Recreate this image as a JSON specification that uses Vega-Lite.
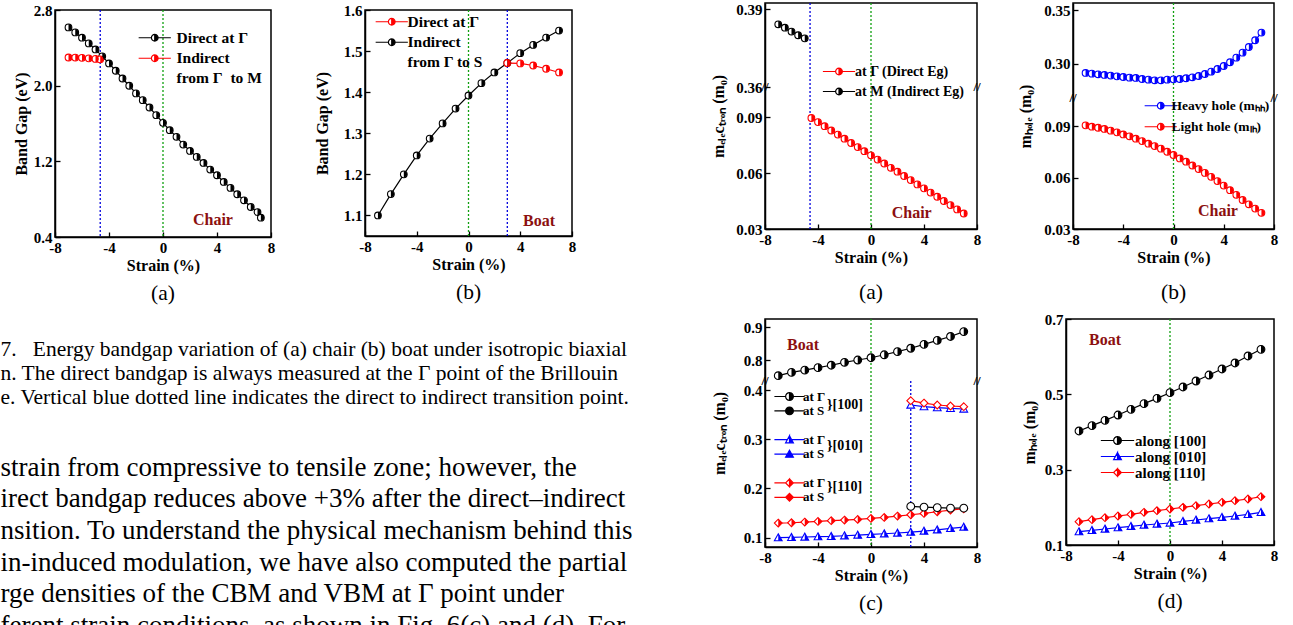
{
"$schema": "https://vega.github.io/schema/vega-lite/v6.json",
"background": "white",
"padding": {"left": 0, "top": 1, "right": 0, "bottom": 0},
"spacing": 76,
"resolve": {"scale": {"color": "independent", "shape": "independent"}},
"config": {
 "view": {"stroke": "#000000", "strokeWidth": 1.5},
 "axis": {"labelFont": "Liberation Serif", "labelFontSize": 15, "labelFontWeight": "bold", "labelColor": "#000000", "titleFont": "Liberation Serif", "titleFontSize": 16, "titleFontWeight": "bold", "titleColor": "#000000", "domainColor": "#000000", "domainWidth": 1.5, "tickColor": "#000000", "tickWidth": 1.3, "tickSize": -5, "labelPadding": 8, "grid": false, "labelFlush": false, "labelOverlap": false},
 "axisX": {"titlePadding": 2},
 "legend": {"labelFont": "Liberation Serif", "labelFontSize": 15, "labelFontWeight": "bold", "labelColor": "#000000", "padding": 0, "labelLimit": 400},
 "text": {"font": "Liberation Serif"}
},
"datasets": {
 "p1": [
  {"series":"Direct at Γ","strain":-7,"value":2.616},{"series":"Direct at Γ","strain":-6.5,"value":2.563},{"series":"Direct at Γ","strain":-6,"value":2.507},{"series":"Direct at Γ","strain":-5.5,"value":2.447},{"series":"Direct at Γ","strain":-5,"value":2.383},{"series":"Direct at Γ","strain":-4.5,"value":2.31},{"series":"Direct at Γ","strain":-4,"value":2.235},{"series":"Direct at Γ","strain":-3.5,"value":2.158},{"series":"Direct at Γ","strain":-3,"value":2.076},{"series":"Direct at Γ","strain":-2.5,"value":1.999},{"series":"Direct at Γ","strain":-2,"value":1.918},{"series":"Direct at Γ","strain":-1.5,"value":1.847},{"series":"Direct at Γ","strain":-1,"value":1.769},{"series":"Direct at Γ","strain":-0.5,"value":1.688},{"series":"Direct at Γ","strain":0,"value":1.607},{"series":"Direct at Γ","strain":0.5,"value":1.529},{"series":"Direct at Γ","strain":1,"value":1.459},{"series":"Direct at Γ","strain":1.5,"value":1.377},{"series":"Direct at Γ","strain":2,"value":1.31},{"series":"Direct at Γ","strain":2.5,"value":1.247},{"series":"Direct at Γ","strain":3,"value":1.183},{"series":"Direct at Γ","strain":3.5,"value":1.113},{"series":"Direct at Γ","strain":4,"value":1.053},{"series":"Direct at Γ","strain":4.5,"value":0.982},{"series":"Direct at Γ","strain":5,"value":0.919},{"series":"Direct at Γ","strain":5.5,"value":0.852},{"series":"Direct at Γ","strain":6,"value":0.788},{"series":"Direct at Γ","strain":6.5,"value":0.717},{"series":"Direct at Γ","strain":7,"value":0.664},{"series":"Direct at Γ","strain":7.25,"value":0.604},
  {"series":"Indirect","strain":-7,"value":2.298},{"series":"Indirect","strain":-6.5,"value":2.297},{"series":"Indirect","strain":-6,"value":2.294},{"series":"Indirect","strain":-5.5,"value":2.289},{"series":"Indirect","strain":-5,"value":2.283},{"series":"Indirect","strain":-4.65,"value":2.278}
 ],
 "p2": [
  {"series":"Indirect","strain":-7,"value":1.100},{"series":"Indirect","strain":-6,"value":1.152},{"series":"Indirect","strain":-5,"value":1.200},{"series":"Indirect","strain":-4,"value":1.246},{"series":"Indirect","strain":-3,"value":1.287},{"series":"Indirect","strain":-2,"value":1.324},{"series":"Indirect","strain":-1,"value":1.360},{"series":"Indirect","strain":0,"value":1.392},{"series":"Indirect","strain":1,"value":1.422},{"series":"Indirect","strain":2,"value":1.448},{"series":"Indirect","strain":3,"value":1.471},{"series":"Indirect","strain":4,"value":1.495},{"series":"Indirect","strain":5,"value":1.515},{"series":"Indirect","strain":6,"value":1.533},{"series":"Indirect","strain":7,"value":1.550},
  {"series":"Direct at Γ","strain":3,"value":1.471},{"series":"Direct at Γ","strain":4,"value":1.470},{"series":"Direct at Γ","strain":5,"value":1.465},{"series":"Direct at Γ","strain":6,"value":1.457},{"series":"Direct at Γ","strain":7,"value":1.448}
 ],
 "pa": [
  {"series":"at M (Indirect Eg)","strain":-7,"value":0.3842},{"series":"at M (Indirect Eg)","strain":-6.5,"value":0.3829},{"series":"at M (Indirect Eg)","strain":-6,"value":0.3814},{"series":"at M (Indirect Eg)","strain":-5.5,"value":0.3800},{"series":"at M (Indirect Eg)","strain":-5,"value":0.3788},
  {"series":"at Γ (Direct Eg)","strain":-4.5,"value":0.0895},{"series":"at Γ (Direct Eg)","strain":-4,"value":0.0873},{"series":"at Γ (Direct Eg)","strain":-3.5,"value":0.0851},{"series":"at Γ (Direct Eg)","strain":-3,"value":0.0828},{"series":"at Γ (Direct Eg)","strain":-2.5,"value":0.0806},{"series":"at Γ (Direct Eg)","strain":-2,"value":0.0784},{"series":"at Γ (Direct Eg)","strain":-1.5,"value":0.0761},{"series":"at Γ (Direct Eg)","strain":-1,"value":0.0739},{"series":"at Γ (Direct Eg)","strain":-0.5,"value":0.0717},{"series":"at Γ (Direct Eg)","strain":0,"value":0.0695},{"series":"at Γ (Direct Eg)","strain":0.5,"value":0.0672},{"series":"at Γ (Direct Eg)","strain":1,"value":0.0651},{"series":"at Γ (Direct Eg)","strain":1.5,"value":0.0628},{"series":"at Γ (Direct Eg)","strain":2,"value":0.0607},{"series":"at Γ (Direct Eg)","strain":2.5,"value":0.0584},{"series":"at Γ (Direct Eg)","strain":3,"value":0.0562},{"series":"at Γ (Direct Eg)","strain":3.5,"value":0.0539},{"series":"at Γ (Direct Eg)","strain":4,"value":0.0518},{"series":"at Γ (Direct Eg)","strain":4.5,"value":0.0495},{"series":"at Γ (Direct Eg)","strain":5,"value":0.0473},{"series":"at Γ (Direct Eg)","strain":5.5,"value":0.0450},{"series":"at Γ (Direct Eg)","strain":6,"value":0.0428},{"series":"at Γ (Direct Eg)","strain":6.5,"value":0.0405},{"series":"at Γ (Direct Eg)","strain":7,"value":0.0383}
 ],
 "pb": [
  {"series":"Heavy hole (mₕₕ)","strain":-7,"value":0.2913},{"series":"Heavy hole (mₕₕ)","strain":-6.5,"value":0.2906},{"series":"Heavy hole (mₕₕ)","strain":-6,"value":0.2900},{"series":"Heavy hole (mₕₕ)","strain":-5.5,"value":0.2894},{"series":"Heavy hole (mₕₕ)","strain":-5,"value":0.2888},{"series":"Heavy hole (mₕₕ)","strain":-4.5,"value":0.2881},{"series":"Heavy hole (mₕₕ)","strain":-4,"value":0.2875},{"series":"Heavy hole (mₕₕ)","strain":-3.5,"value":0.2869},{"series":"Heavy hole (mₕₕ)","strain":-3,"value":0.2866},{"series":"Heavy hole (mₕₕ)","strain":-2.5,"value":0.2856},{"series":"Heavy hole (mₕₕ)","strain":-2,"value":0.2850},{"series":"Heavy hole (mₕₕ)","strain":-1.5,"value":0.2844},{"series":"Heavy hole (mₕₕ)","strain":-1,"value":0.2844},{"series":"Heavy hole (mₕₕ)","strain":-0.5,"value":0.2850},{"series":"Heavy hole (mₕₕ)","strain":0,"value":0.2853},{"series":"Heavy hole (mₕₕ)","strain":0.5,"value":0.2856},{"series":"Heavy hole (mₕₕ)","strain":1,"value":0.2863},{"series":"Heavy hole (mₕₕ)","strain":1.5,"value":0.2872},{"series":"Heavy hole (mₕₕ)","strain":2,"value":0.2884},{"series":"Heavy hole (mₕₕ)","strain":2.5,"value":0.2903},{"series":"Heavy hole (mₕₕ)","strain":3,"value":0.2925},{"series":"Heavy hole (mₕₕ)","strain":3.5,"value":0.2950},{"series":"Heavy hole (mₕₕ)","strain":4,"value":0.2978},{"series":"Heavy hole (mₕₕ)","strain":4.5,"value":0.3013},{"series":"Heavy hole (mₕₕ)","strain":5,"value":0.3056},{"series":"Heavy hole (mₕₕ)","strain":5.5,"value":0.3103},{"series":"Heavy hole (mₕₕ)","strain":6,"value":0.3156},{"series":"Heavy hole (mₕₕ)","strain":6.5,"value":0.3219},{"series":"Heavy hole (mₕₕ)","strain":7,"value":0.3291},
  {"series":"Light hole (mₗₕ)","strain":-7,"value":0.0904},{"series":"Light hole (mₗₕ)","strain":-6.5,"value":0.0896},{"series":"Light hole (mₗₕ)","strain":-6,"value":0.0890},{"series":"Light hole (mₗₕ)","strain":-5.5,"value":0.0883},{"series":"Light hole (mₗₕ)","strain":-5,"value":0.0873},{"series":"Light hole (mₗₕ)","strain":-4.5,"value":0.0863},{"series":"Light hole (mₗₕ)","strain":-4,"value":0.0851},{"series":"Light hole (mₗₕ)","strain":-3.5,"value":0.0840},{"series":"Light hole (mₗₕ)","strain":-3,"value":0.0826},{"series":"Light hole (mₗₕ)","strain":-2.5,"value":0.0812},{"series":"Light hole (mₗₕ)","strain":-2,"value":0.0797},{"series":"Light hole (mₗₕ)","strain":-1.5,"value":0.0783},{"series":"Light hole (mₗₕ)","strain":-1,"value":0.0768},{"series":"Light hole (mₗₕ)","strain":-0.5,"value":0.0750},{"series":"Light hole (mₗₕ)","strain":0,"value":0.0731},{"series":"Light hole (mₗₕ)","strain":0.5,"value":0.0711},{"series":"Light hole (mₗₕ)","strain":1,"value":0.0692},{"series":"Light hole (mₗₕ)","strain":1.5,"value":0.0670},{"series":"Light hole (mₗₕ)","strain":2,"value":0.0649},{"series":"Light hole (mₗₕ)","strain":2.5,"value":0.0627},{"series":"Light hole (mₗₕ)","strain":3,"value":0.0604},{"series":"Light hole (mₗₕ)","strain":3.5,"value":0.0579},{"series":"Light hole (mₗₕ)","strain":4,"value":0.0553},{"series":"Light hole (mₗₕ)","strain":4.5,"value":0.0526},{"series":"Light hole (mₗₕ)","strain":5,"value":0.0499},{"series":"Light hole (mₗₕ)","strain":5.5,"value":0.0469},{"series":"Light hole (mₗₕ)","strain":6,"value":0.0444},{"series":"Light hole (mₗₕ)","strain":6.5,"value":0.0419},{"series":"Light hole (mₗₕ)","strain":7,"value":0.0394}
 ],
 "pc": [
  {"series":"[100] at Γ","strain":-7,"value":0.752},{"series":"[100] at Γ","strain":-6,"value":0.762},{"series":"[100] at Γ","strain":-5,"value":0.769},{"series":"[100] at Γ","strain":-4,"value":0.7765},{"series":"[100] at Γ","strain":-3,"value":0.784},{"series":"[100] at Γ","strain":-2,"value":0.793},{"series":"[100] at Γ","strain":-1,"value":0.800},{"series":"[100] at Γ","strain":0,"value":0.807},{"series":"[100] at Γ","strain":1,"value":0.816},{"series":"[100] at Γ","strain":2,"value":0.8255},{"series":"[100] at Γ","strain":3,"value":0.836},{"series":"[100] at Γ","strain":4,"value":0.848},{"series":"[100] at Γ","strain":5,"value":0.860},{"series":"[100] at Γ","strain":6,"value":0.872},{"series":"[100] at Γ","strain":7,"value":0.887},
  {"series":"[100] at S","strain":3,"value":0.1635},{"series":"[100] at S","strain":4,"value":0.162},{"series":"[100] at S","strain":5,"value":0.161},{"series":"[100] at S","strain":6,"value":0.160},{"series":"[100] at S","strain":7,"value":0.160},
  {"series":"[010] at Γ","strain":-7,"value":0.100},{"series":"[010] at Γ","strain":-6,"value":0.1007},{"series":"[010] at Γ","strain":-5,"value":0.1014},{"series":"[010] at Γ","strain":-4,"value":0.102},{"series":"[010] at Γ","strain":-3,"value":0.1027},{"series":"[010] at Γ","strain":-2,"value":0.104},{"series":"[010] at Γ","strain":-1,"value":0.1054},{"series":"[010] at Γ","strain":0,"value":0.1068},{"series":"[010] at Γ","strain":1,"value":0.108},{"series":"[010] at Γ","strain":2,"value":0.1095},{"series":"[010] at Γ","strain":3,"value":0.1115},{"series":"[010] at Γ","strain":4,"value":0.1135},{"series":"[010] at Γ","strain":5,"value":0.116},{"series":"[010] at Γ","strain":6,"value":0.119},{"series":"[010] at Γ","strain":7,"value":0.1216},
  {"series":"[010] at S","strain":3,"value":0.3696},{"series":"[010] at S","strain":4,"value":0.3662},{"series":"[010] at S","strain":5,"value":0.3642},{"series":"[010] at S","strain":6,"value":0.3628},{"series":"[010] at S","strain":7,"value":0.3615},
  {"series":"[110] at Γ","strain":-7,"value":0.1297},{"series":"[110] at Γ","strain":-6,"value":0.1304},{"series":"[110] at Γ","strain":-5,"value":0.1318},{"series":"[110] at Γ","strain":-4,"value":0.1331},{"series":"[110] at Γ","strain":-3,"value":0.1345},{"series":"[110] at Γ","strain":-2,"value":0.1358},{"series":"[110] at Γ","strain":-1,"value":0.1372},{"series":"[110] at Γ","strain":0,"value":0.1392},{"series":"[110] at Γ","strain":1,"value":0.1412},{"series":"[110] at Γ","strain":2,"value":0.1439},{"series":"[110] at Γ","strain":3,"value":0.1466},{"series":"[110] at Γ","strain":4,"value":0.1493},{"series":"[110] at Γ","strain":5,"value":0.1527},{"series":"[110] at Γ","strain":6,"value":0.1561},{"series":"[110] at Γ","strain":7,"value":0.1588},
  {"series":"[110] at S","strain":3,"value":0.3784},{"series":"[110] at S","strain":4,"value":0.3736},{"series":"[110] at S","strain":5,"value":0.3696},{"series":"[110] at S","strain":6,"value":0.3676},{"series":"[110] at S","strain":7,"value":0.3662}
 ],
 "pcgrp": [{"grp":"[100]"},{"grp":"[010]"},{"grp":"[110]"}],
 "pd": [
  {"series":"along [100]","strain":-7,"value":0.4027},{"series":"along [100]","strain":-6,"value":0.4168},{"series":"along [100]","strain":-5,"value":0.431},{"series":"along [100]","strain":-4,"value":0.4451},{"series":"along [100]","strain":-3,"value":0.4602},{"series":"along [100]","strain":-2,"value":0.4752},{"series":"along [100]","strain":-1,"value":0.4894},{"series":"along [100]","strain":0,"value":0.5044},{"series":"along [100]","strain":1,"value":0.5195},{"series":"along [100]","strain":2,"value":0.5354},{"series":"along [100]","strain":3,"value":0.5513},{"series":"along [100]","strain":4,"value":0.5673},{"series":"along [100]","strain":5,"value":0.5832},{"series":"along [100]","strain":6,"value":0.6018},{"series":"along [100]","strain":7,"value":0.6195},
  {"series":"along [010]","strain":-7,"value":0.1354},{"series":"along [010]","strain":-6,"value":0.1389},{"series":"along [010]","strain":-5,"value":0.1425},{"series":"along [010]","strain":-4,"value":0.146},{"series":"along [010]","strain":-3,"value":0.1496},{"series":"along [010]","strain":-2,"value":0.1531},{"series":"along [010]","strain":-1,"value":0.1558},{"series":"along [010]","strain":0,"value":0.1584},{"series":"along [010]","strain":1,"value":0.1628},{"series":"along [010]","strain":2,"value":0.1664},{"series":"along [010]","strain":3,"value":0.1699},{"series":"along [010]","strain":4,"value":0.1735},{"series":"along [010]","strain":5,"value":0.177},{"series":"along [010]","strain":6,"value":0.1814},{"series":"along [010]","strain":7,"value":0.1867},
  {"series":"along [110]","strain":-7,"value":0.1619},{"series":"along [110]","strain":-6,"value":0.1673},{"series":"along [110]","strain":-5,"value":0.1726},{"series":"along [110]","strain":-4,"value":0.177},{"series":"along [110]","strain":-3,"value":0.1814},{"series":"along [110]","strain":-2,"value":0.1867},{"series":"along [110]","strain":-1,"value":0.1912},{"series":"along [110]","strain":0,"value":0.1956},{"series":"along [110]","strain":1,"value":0.2},{"series":"along [110]","strain":2,"value":0.2044},{"series":"along [110]","strain":3,"value":0.2088},{"series":"along [110]","strain":4,"value":0.2133},{"series":"along [110]","strain":5,"value":0.2177},{"series":"along [110]","strain":6,"value":0.2221},{"series":"along [110]","strain":7,"value":0.2283}
 ]
},
"hconcat": [
 {
  "spacing": -2,
  "resolve": {"scale": {"color": "independent", "shape": "independent"}},
  "title": {
   "text": ["7.\u00a0\u00a0\u00a0Energy bandgap variation of (a) chair (b) boat under isotropic biaxial", "n. The direct bandgap is always measured at the Γ point of the Brillouin", "e. Vertical blue dotted line indicates the direct to indirect transition point."],
   "subtitle": ["strain from compressive to tensile zone; however, the", "irect bandgap reduces above +3% after the direct–indirect", "nsition. To understand the physical mechanism behind this", "in-induced modulation, we have also computed the partial", "rge densities of the CBM and VBM at Γ point under", "ferent strain conditions, as shown in Fig. 6(c) and (d). For"],
   "orient": "bottom", "anchor": "start", "frame": "bounds", "dx": -12, "offset": 34,
   "font": "Liberation Serif", "fontSize": 21.5, "fontWeight": "normal", "lineHeight": 24, "color": "#000000",
   "subtitleFont": "Liberation Serif", "subtitleFontSize": 27, "subtitleFontWeight": "normal", "subtitleLineHeight": 31.6, "subtitleColor": "#000000", "subtitlePadding": 46
  },
  "vconcat": [
   {"width": 1, "height": 1, "view": {"stroke": null}, "data": {"values": []}, "mark": {"type": "point", "opacity": 0}},
   {
  "spacing": 37,
  "resolve": {"scale": {"color": "independent", "shape": "independent"}},
  "hconcat": [
   {
    "width": 216, "height": 227,
    "title": {"text": "(a)", "orient": "bottom", "offset": 10, "font": "Liberation Serif", "fontSize": 21.5, "fontWeight": "normal", "color": "#000000"},
    "layer": [
     {"data": {"values": [{}]}, "mark": {"type": "rule", "color": "#10a010", "strokeDash": [2, 2], "strokeWidth": 1.3}, "encoding": {"x": {"datum": 0}}},
     {"data": {"values": [{}]}, "mark": {"type": "rule", "color": "#0000dd", "strokeDash": [2, 2], "strokeWidth": 1.3}, "encoding": {"x": {"datum": -4.65}}},
     {"data": {"name": "p1"}, "mark": {"type": "line", "strokeWidth": 1.2},
      "encoding": {
       "x": {"field": "strain", "type": "quantitative", "scale": {"domain": [-8, 8], "nice": false, "zero": false}, "axis": {"title": "Strain (%)", "values": [-8, -6, -4, -2, 0, 2, 4, 6, 8], "labelOverlap": false, "labelExpr": "datum.value < 0 ? '-' + abs(datum.value) : '' + datum.value"}},
       "y": {"field": "value", "type": "quantitative", "scale": {"domain": [0.4, 2.8], "nice": false, "zero": false}, "axis": {"title": "Band Gap (eV)", "values": [0.4, 0.8, 1.2, 1.6, 2.0, 2.4, 2.8], "labelOverlap": false, "format": ".1f", "titlePadding": 4}},
       "color": {"field": "series", "type": "nominal", "scale": {"domain": ["Direct at Γ", "Indirect"], "range": ["#000000", "#ff0000"]},
        "legend": {"orient": "none", "legendX": 92, "legendY": 20, "title": null, "symbolSize": 45, "labelOffset": 14, "rowPadding": 3.5, "labelBaseline": "alphabetic", "labelFontSize": 15.5,
         "labelExpr": "datum.label === 'Indirect' ? ['Indirect', '\u00a0\u00a0from Γ\u00a0\u00a0to M'] : datum.label",
         "encode": {
          "symbols": {"update": {"shape": {"value": "M-4.8,0H-1M1,0H4.8M0,-1A1,1,0,1,1,0,1A1,1,0,1,1,0,-1ZM0,-1A1,1,0,0,0,0,1Z"}, "fill": {"signal": "datum.value === 'Indirect' ? '#ff0000' : '#000000'"}, "stroke": {"signal": "datum.value === 'Indirect' ? '#ff0000' : '#000000'"}, "strokeWidth": {"value": 1.2}, "strokeDash": {"value": []}, "opacity": {"value": 1}}},
          "labels": {"update": {"dy": {"value": 5}, "lineHeight": {"value": 20}}}}}}}},
     {"data": {"name": "p1"}, "mark": {"type": "point", "shape": "circle", "filled": false, "fill": "white", "size": 45, "strokeWidth": 1.1, "opacity": 1},
      "encoding": {"x": {"field": "strain", "type": "quantitative"}, "y": {"field": "value", "type": "quantitative"}, "color": {"field": "series", "type": "nominal"}}},
     {"data": {"name": "p1"}, "mark": {"type": "point", "shape": "M0,-1A1,1,0,1,1,0,1A1,1,0,1,1,0,-1ZM0,-1A1,1,0,0,0,0,1Z", "filled": true, "size": 45, "opacity": 1},
      "encoding": {"x": {"field": "strain", "type": "quantitative"}, "y": {"field": "value", "type": "quantitative"}, "color": {"field": "series", "type": "nominal"}}},
     {"data": {"values": [{}]}, "mark": {"type": "text", "text": "Chair", "font": "Liberation Serif", "fontWeight": "bold", "fontSize": 16, "color": "#8c1010"}, "encoding": {"x": {"datum": 3.7}, "y": {"datum": 0.58}}}
    ]
   },
   {
    "width": 207, "height": 226,
    "title": {"text": "(b)", "orient": "bottom", "offset": 10, "font": "Liberation Serif", "fontSize": 21.5, "fontWeight": "normal", "color": "#000000"},
    "layer": [
     {"data": {"values": [{}]}, "mark": {"type": "rule", "color": "#10a010", "strokeDash": [2, 2], "strokeWidth": 1.3}, "encoding": {"x": {"datum": 0}}},
     {"data": {"values": [{}]}, "mark": {"type": "rule", "color": "#0000dd", "strokeDash": [2, 2], "strokeWidth": 1.3}, "encoding": {"x": {"datum": 3}}},
     {"data": {"name": "p2"}, "mark": {"type": "line", "strokeWidth": 1.2},
      "encoding": {
       "x": {"field": "strain", "type": "quantitative", "scale": {"domain": [-8, 8], "nice": false, "zero": false}, "axis": {"title": "Strain (%)", "values": [-8, -6, -4, -2, 0, 2, 4, 6, 8], "labelOverlap": false, "labelExpr": "datum.value < 0 ? '-' + abs(datum.value) : '' + datum.value"}},
       "y": {"field": "value", "type": "quantitative", "scale": {"domain": [1.05, 1.6], "nice": false, "zero": false}, "axis": {"title": "Band Gap (eV)", "values": [1.1, 1.2, 1.3, 1.4, 1.5, 1.6], "labelOverlap": false, "format": ".1f", "titlePadding": 13}},
       "color": {"field": "series", "type": "nominal", "scale": {"domain": ["Direct at Γ", "Indirect"], "range": ["#ff0000", "#000000"]},
        "legend": {"orient": "none", "legendX": 19, "legendY": 4, "title": null, "symbolSize": 45, "labelOffset": 8, "rowPadding": 3.5, "labelBaseline": "alphabetic", "labelFontSize": 15.5,
         "labelExpr": "datum.label === 'Indirect' ? ['Indirect', '\u00a0\u00a0from Γ to S'] : datum.label",
         "encode": {
          "symbols": {"update": {"shape": {"value": "M-4.8,0H-1M1,0H4.8M0,-1A1,1,0,1,1,0,1A1,1,0,1,1,0,-1ZM0,-1A1,1,0,0,0,0,1Z"}, "fill": {"signal": "datum.value === 'Indirect' ? '#000000' : '#ff0000'"}, "stroke": {"signal": "datum.value === 'Indirect' ? '#000000' : '#ff0000'"}, "strokeWidth": {"value": 1.2}, "strokeDash": {"value": []}, "opacity": {"value": 1}}},
          "labels": {"update": {"dy": {"value": 5}, "lineHeight": {"value": 20}}}}}}}},
     {"data": {"name": "p2"}, "mark": {"type": "point", "shape": "circle", "filled": false, "fill": "white", "size": 45, "strokeWidth": 1.1, "opacity": 1},
      "encoding": {"x": {"field": "strain", "type": "quantitative"}, "y": {"field": "value", "type": "quantitative"}, "color": {"field": "series", "type": "nominal"}}},
     {"data": {"name": "p2"}, "mark": {"type": "point", "shape": "M0,-1A1,1,0,1,1,0,1A1,1,0,1,1,0,-1ZM0,-1A1,1,0,0,0,0,1Z", "filled": true, "size": 45, "opacity": 1},
      "encoding": {"x": {"field": "strain", "type": "quantitative"}, "y": {"field": "value", "type": "quantitative"}, "color": {"field": "series", "type": "nominal"}}},
     {"data": {"values": [{}]}, "mark": {"type": "text", "text": "Boat", "font": "Liberation Serif", "fontWeight": "bold", "fontSize": 16, "color": "#8c1010"}, "encoding": {"x": {"datum": 5.45}, "y": {"datum": 1.086}}}
    ]
   }
  ]
   }
  ]
 },
 {
  "spacing": 6,
  "resolve": {"scale": {"color": "independent", "shape": "independent"}},
  "vconcat": [
   {
    "spacing": 96,
    "bounds": "flush",
    "resolve": {"scale": {"color": "independent", "shape": "independent"}},
    "hconcat": [
     {
      "width": 212, "height": 226,
      "title": {"text": "(a)", "orient": "bottom", "offset": 17, "font": "Liberation Serif", "fontSize": 21.5, "fontWeight": "normal", "color": "#000000"},
      "layer": [
       {"data": {"values": [{}]}, "mark": {"type": "rule", "color": "#10a010", "strokeDash": [2, 2], "strokeWidth": 1.3}, "encoding": {"x": {"datum": 0}}},
       {"data": {"values": [{}]}, "mark": {"type": "rule", "color": "#0000dd", "strokeDash": [2, 2], "strokeWidth": 1.3}, "encoding": {"x": {"datum": -4.6}}},
       {"data": {"name": "pa"}, "mark": {"type": "line", "strokeWidth": 1.2},
        "encoding": {
         "x": {"field": "strain", "type": "quantitative", "scale": {"domain": [-8, 8], "nice": false, "zero": false}, "axis": {"title": "Strain (%)", "values": [-8, -6, -4, -2, 0, 2, 4, 6, 8], "labelOverlap": false, "labelExpr": "datum.value < 0 ? '-' + abs(datum.value) : '' + datum.value"}},
         "y": {"field": "value", "type": "quantitative", "scale": {"domain": [0.03, 0.106, 0.36, 0.3924], "range": [226, 84.2, 84.2, 0], "nice": false, "zero": false}, "axis": {"title": "mₑₗₑcₜᵣₒₙ (m₀)", "values": [0.03, 0.06, 0.09, 0.36, 0.39], "labelOverlap": false, "format": ".2f", "titlePadding": 9}},
         "color": {"field": "series", "type": "nominal", "scale": {"domain": ["at Γ (Direct Eg)", "at M (Indirect Eg)"], "range": ["#ff0000", "#000000"]},
          "legend": {"orient": "none", "legendX": 67, "legendY": 61.5, "title": null, "symbolSize": 45, "labelOffset": 9, "rowPadding": 6, "labelFontSize": 14,
           "encode": {
            "symbols": {"update": {"shape": {"value": "M-4.8,0H-1M1,0H4.8M0,-1A1,1,0,1,1,0,1A1,1,0,1,1,0,-1ZM0,-1A1,1,0,0,0,0,1Z"}, "fill": {"signal": "indexof(datum.value, 'at M') >= 0 ? '#000000' : '#ff0000'"}, "stroke": {"signal": "indexof(datum.value, 'at M') >= 0 ? '#000000' : '#ff0000'"}, "strokeWidth": {"value": 1.2}, "strokeDash": {"value": []}, "opacity": {"value": 1}}}}}}}},
       {"data": {"name": "pa"}, "mark": {"type": "point", "shape": "circle", "filled": false, "fill": "white", "size": 45, "strokeWidth": 1.1, "opacity": 1},
        "encoding": {"x": {"field": "strain", "type": "quantitative"}, "y": {"field": "value", "type": "quantitative"}, "color": {"field": "series", "type": "nominal"}}},
       {"data": {"name": "pa"}, "mark": {"type": "point", "shape": "M0,-1A1,1,0,1,1,0,1A1,1,0,1,1,0,-1ZM0,-1A1,1,0,0,0,0,1Z", "filled": true, "size": 45, "opacity": 1},
        "encoding": {"x": {"field": "strain", "type": "quantitative"}, "y": {"field": "value", "type": "quantitative"}, "color": {"field": "series", "type": "nominal"}}},
       {"data": {"values": [{}]}, "mark": {"type": "text", "text": "Chair", "font": "Liberation Serif", "fontWeight": "bold", "fontSize": 16, "color": "#8c1010"}, "encoding": {"x": {"datum": 3.07}, "y": {"datum": 0.0386}}},
       {"data": {"values": [{}]}, "mark": {"type": "text", "text": "//", "font": "Liberation Serif", "fontWeight": "bold", "fontSize": 13, "color": "#000000"}, "encoding": {"x": {"datum": -8}, "y": {"datum": 0.2}}},
       {"data": {"values": [{}]}, "mark": {"type": "text", "text": "//", "font": "Liberation Serif", "fontWeight": "bold", "fontSize": 13, "color": "#000000"}, "encoding": {"x": {"datum": 8}, "y": {"datum": 0.2}}}
      ]
     },
     {
      "width": 201, "height": 226,
      "title": {"text": "(b)", "orient": "bottom", "offset": 17, "font": "Liberation Serif", "fontSize": 21.5, "fontWeight": "normal", "color": "#000000"},
      "layer": [
       {"data": {"values": [{}]}, "mark": {"type": "rule", "color": "#10a010", "strokeDash": [2, 2], "strokeWidth": 1.3}, "encoding": {"x": {"datum": 0}}},
       {"data": {"name": "pb"}, "mark": {"type": "line", "strokeWidth": 1.2},
        "encoding": {
         "x": {"field": "strain", "type": "quantitative", "scale": {"domain": [-8, 8], "nice": false, "zero": false}, "axis": {"title": "Strain (%)", "values": [-8, -6, -4, -2, 0, 2, 4, 6, 8], "labelOverlap": false, "labelExpr": "datum.value < 0 ? '-' + abs(datum.value) : '' + datum.value"}},
         "y": {"field": "value", "type": "quantitative", "scale": {"domain": [0.03, 0.1065, 0.2681, 0.3568], "range": [226, 94.7, 94.7, 0], "nice": false, "zero": false}, "axis": {"title": "mₕₒₗₑ (m₀)", "values": [0.03, 0.06, 0.09, 0.30, 0.35], "labelOverlap": false, "format": ".2f", "titlePadding": 10}},
         "color": {"field": "series", "type": "nominal", "scale": {"domain": ["Heavy hole (mₕₕ)", "Light hole (mₗₕ)"], "range": ["#0000ff", "#ff0000"]},
          "legend": {"orient": "none", "legendX": 81, "legendY": 96, "title": null, "symbolSize": 45, "labelOffset": 4, "rowPadding": 6, "labelFontSize": 13.5,
           "encode": {
            "symbols": {"update": {"shape": {"value": "M-4.8,0H-1M1,0H4.8M0,-1A1,1,0,1,1,0,1A1,1,0,1,1,0,-1ZM0,-1A1,1,0,0,0,0,1Z"}, "fill": {"signal": "indexof(datum.value, 'Heavy') >= 0 ? '#0000ff' : '#ff0000'"}, "stroke": {"signal": "indexof(datum.value, 'Heavy') >= 0 ? '#0000ff' : '#ff0000'"}, "strokeWidth": {"value": 1.2}, "strokeDash": {"value": []}, "opacity": {"value": 1}}}}}}}},
       {"data": {"name": "pb"}, "mark": {"type": "point", "shape": "circle", "filled": false, "fill": "white", "size": 45, "strokeWidth": 1.1, "opacity": 1},
        "encoding": {"x": {"field": "strain", "type": "quantitative"}, "y": {"field": "value", "type": "quantitative"}, "color": {"field": "series", "type": "nominal"}}},
       {"data": {"name": "pb"}, "mark": {"type": "point", "shape": "M0,-1A1,1,0,1,1,0,1A1,1,0,1,1,0,-1ZM0,-1A1,1,0,0,0,0,1Z", "filled": true, "size": 45, "opacity": 1},
        "encoding": {"x": {"field": "strain", "type": "quantitative"}, "y": {"field": "value", "type": "quantitative"}, "color": {"field": "series", "type": "nominal"}}},
       {"data": {"values": [{}]}, "mark": {"type": "text", "text": "Chair", "font": "Liberation Serif", "fontWeight": "bold", "fontSize": 16, "color": "#8c1010"}, "encoding": {"x": {"datum": 3.54}, "y": {"datum": 0.0403}}},
       {"data": {"values": [{}]}, "mark": {"type": "text", "text": "//", "font": "Liberation Serif", "fontWeight": "bold", "fontSize": 13, "color": "#000000"}, "encoding": {"x": {"datum": -8}, "y": {"datum": 0.2}}},
       {"data": {"values": [{}]}, "mark": {"type": "text", "text": "//", "font": "Liberation Serif", "fontWeight": "bold", "fontSize": 13, "color": "#000000"}, "encoding": {"x": {"datum": 8}, "y": {"datum": 0.2}}}
      ]
     }
    ]
   },
   {
    "spacing": 89,
    "bounds": "flush",
    "resolve": {"scale": {"color": "independent", "shape": "independent"}},
    "hconcat": [
     {
      "width": 212, "height": 228,
      "title": {"text": "(c)", "orient": "bottom", "offset": 10, "font": "Liberation Serif", "fontSize": 21.5, "fontWeight": "normal", "color": "#000000"},
      "resolve": {"scale": {"shape": "independent"}},
      "layer": [
       {"data": {"values": [{}]}, "mark": {"type": "rule", "color": "#10a010", "strokeDash": [2, 2], "strokeWidth": 1.3}, "encoding": {"x": {"datum": 0}}},
       {"data": {"values": [{}]}, "mark": {"type": "rule", "color": "#0000dd", "strokeDash": [2, 2], "strokeWidth": 1.3}, "encoding": {"x": {"datum": 3}, "y": {"datum": 0.0811}, "y2": {"datum": 0.419}}},
       {"data": {"name": "pc"}, "mark": {"type": "line", "strokeWidth": 1.2},
        "encoding": {
         "x": {"field": "strain", "type": "quantitative", "scale": {"domain": [-8, 8], "nice": false, "zero": false}, "axis": {"title": "Strain (%)", "values": [-8, -6, -4, -2, 0, 2, 4, 6, 8], "labelOverlap": false, "labelExpr": "datum.value < 0 ? '-' + abs(datum.value) : '' + datum.value"}},
         "y": {"field": "value", "type": "quantitative", "scale": {"domain": [0.0811, 0.419, 0.7367, 0.9255], "range": [228, 61.7, 61.7, 0], "nice": false, "zero": false}, "axis": {"title": "mₑₗₑcₜᵣₒₙ (m₀)", "values": [0.1, 0.2, 0.3, 0.4, 0.8, 0.9], "labelOverlap": false, "format": ".1f", "titlePadding": 16}},
         "color": {"field": "series", "type": "nominal", "scale": {"domain": ["[100] at Γ", "[100] at S", "gap1", "[010] at Γ", "[010] at S", "gap2", "[110] at Γ", "[110] at S"], "range": ["#000000", "#000000", "#ffffff", "#0000ff", "#0000ff", "#ffffff", "#ff0000", "#ff0000"]},
          "legend": {"orient": "none", "legendX": 18, "legendY": 71, "title": null, "symbolSize": 60, "labelOffset": 7, "rowPadding": 0.4, "labelFontSize": 13,
           "labelExpr": "indexof(datum.label, 'gap') >= 0 ? '' : indexof(datum.label, 'at S') >= 0 ? 'at S' : 'at Γ'",
           "encode": {
            "symbols": {"update": {
             "shape": {"signal": "datum.value === '[100] at Γ' ? 'M-3.9,0H-1M1,0H3.9M0,-1A1,1,0,1,1,0,1A1,1,0,1,1,0,-1ZM0,-1A1,1,0,0,0,0,1Z' : datum.value === '[100] at S' ? 'M-3.9,0H-1M1,0H3.9M0,-1A1,1,0,1,1,0,1A1,1,0,1,1,0,-1Z' : datum.value === '[010] at Γ' ? 'M-3.9,0H-0.56M0.56,0H3.9M0,-1L1,0.8L-1,0.8ZM0,-1L-1,0.8L0,0.8Z' : datum.value === '[010] at S' ? 'M-3.9,0H-0.56M0.56,0H3.9M0,-1L1,0.8L-1,0.8Z' : datum.value === '[110] at Γ' ? 'M-3.9,0H-1M1,0H3.9M0,-1L1,0L0,1L-1,0ZM0,-1L-1,0L0,1Z' : datum.value === '[110] at S' ? 'M-3.9,0H-1M1,0H3.9M0,-1L1,0L0,1L-1,0Z' : 'M0,0'"},
             "fill": {"signal": "indexof(datum.value, 'gap') >= 0 ? 'transparent' : indexof(datum.value, 'at S') >= 0 ? '#ffffff' : indexof(datum.value, '[010]') >= 0 ? '#0000ff' : indexof(datum.value, '[110]') >= 0 ? '#ff0000' : '#000000'"},
             "stroke": {"signal": "indexof(datum.value, 'gap') >= 0 ? 'transparent' : indexof(datum.value, '[010]') >= 0 ? '#0000ff' : indexof(datum.value, '[110]') >= 0 ? '#ff0000' : '#000000'"},
             "strokeWidth": {"value": 1.2}, "strokeDash": {"value": []}, "opacity": {"value": 1}}}}}}}},
       {"data": {"name": "pc"}, "transform": [{"filter": "indexof(datum.series, 'at Γ') >= 0"}], "mark": {"type": "point", "filled": false, "fill": "white", "size": 60, "strokeWidth": 1.1, "opacity": 1},
        "encoding": {"x": {"field": "strain", "type": "quantitative"}, "y": {"field": "value", "type": "quantitative"}, "color": {"field": "series", "type": "nominal"},
         "shape": {"field": "series", "type": "nominal", "scale": {"domain": ["[100] at Γ", "[010] at Γ", "[110] at Γ"], "range": ["circle", "M0,-1L1,0.8L-1,0.8Z", "M0,-1L1,0L0,1L-1,0Z"]}, "legend": null}}},
       {"data": {"name": "pc"}, "transform": [{"filter": "indexof(datum.series, 'at Γ') >= 0"}], "mark": {"type": "point", "filled": true, "size": 60, "opacity": 1},
        "encoding": {"x": {"field": "strain", "type": "quantitative"}, "y": {"field": "value", "type": "quantitative"}, "color": {"field": "series", "type": "nominal"},
         "shape": {"field": "series", "type": "nominal", "scale": {"domain": ["[100] at Γ", "[010] at Γ", "[110] at Γ"], "range": ["M0,-1A1,1,0,1,1,0,1A1,1,0,1,1,0,-1ZM0,-1A1,1,0,0,0,0,1Z", "M0,-1L1,0.8L-1,0.8ZM0,-1L-1,0.8L0,0.8Z", "M0,-1L1,0L0,1L-1,0ZM0,-1L-1,0L0,1Z"]}, "legend": null}}},
       {"data": {"name": "pc"}, "transform": [{"filter": "indexof(datum.series, 'at S') >= 0"}], "mark": {"type": "point", "filled": false, "fill": "white", "size": 60, "strokeWidth": 1.1, "opacity": 1},
        "encoding": {"x": {"field": "strain", "type": "quantitative"}, "y": {"field": "value", "type": "quantitative"}, "color": {"field": "series", "type": "nominal"},
         "shape": {"field": "series", "type": "nominal", "scale": {"domain": ["[100] at S", "[010] at S", "[110] at S"], "range": ["circle", "M0,-1L1,0.8L-1,0.8Z", "M0,-1L1,0L0,1L-1,0Z"]}, "legend": null}}},
       {"data": {"name": "pcgrp"}, "mark": {"type": "point", "opacity": 0},
        "encoding": {"shape": {"field": "grp", "type": "nominal", "scale": {"domain": ["[100]", "[010]", "[110]"]},
         "legend": {"orient": "none", "legendX": 48, "legendY": 79, "title": null, "symbolSize": 1, "symbolOpacity": 0, "labelOffset": 0, "rowPadding": 27, "labelFontSize": 14, "labelExpr": "'}' + datum.label"}}}},
       {"data": {"values": [{}]}, "mark": {"type": "text", "text": "Boat", "font": "Liberation Serif", "fontWeight": "bold", "fontSize": 16, "color": "#8c1010"}, "encoding": {"x": {"datum": -5.13}, "y": {"datum": 0.846}}},
       {"data": {"values": [{}]}, "mark": {"type": "text", "text": "//", "font": "Liberation Serif", "fontWeight": "bold", "fontSize": 13, "color": "#000000"}, "encoding": {"x": {"datum": -8}, "y": {"datum": 0.6}}},
       {"data": {"values": [{}]}, "mark": {"type": "text", "text": "//", "font": "Liberation Serif", "fontWeight": "bold", "fontSize": 13, "color": "#000000"}, "encoding": {"x": {"datum": 8}, "y": {"datum": 0.6}}}
      ]
     },
     {
      "width": 208, "height": 226,
      "title": {"text": "(d)", "orient": "bottom", "offset": 10, "font": "Liberation Serif", "fontSize": 21.5, "fontWeight": "normal", "color": "#000000"},
      "resolve": {"scale": {"shape": "independent"}},
      "layer": [
       {"data": {"values": [{}]}, "mark": {"type": "rule", "color": "#10a010", "strokeDash": [2, 2], "strokeWidth": 1.3}, "encoding": {"x": {"datum": 0}}},
       {"data": {"name": "pd"}, "mark": {"type": "line", "strokeWidth": 1.2},
        "encoding": {
         "x": {"field": "strain", "type": "quantitative", "scale": {"domain": [-8, 8], "nice": false, "zero": false}, "axis": {"title": "Strain (%)", "values": [-8, -6, -4, -2, 0, 2, 4, 6, 8], "labelOverlap": false, "labelExpr": "datum.value < 0 ? '-' + abs(datum.value) : '' + datum.value"}},
         "y": {"field": "value", "type": "quantitative", "scale": {"domain": [0.1, 0.7], "nice": false, "zero": false}, "axis": {"title": "mₕₒₗₑ (m₀)", "values": [0.1, 0.2, 0.3, 0.4, 0.5, 0.6, 0.7], "labelOverlap": false, "format": ".1f", "titlePadding": 7}},
         "color": {"field": "series", "type": "nominal", "scale": {"domain": ["along [100]", "along [010]", "along [110]"], "range": ["#000000", "#0000ff", "#ff0000"]},
          "legend": {"orient": "none", "legendX": 44, "legendY": 114, "title": null, "symbolSize": 60, "labelOffset": 10, "rowPadding": 0, "labelFontSize": 15,
           "encode": {
            "symbols": {"update": {
             "shape": {"signal": "datum.value === 'along [010]' ? 'M-4.3,0H-0.56M0.56,0H4.3M0,-1L1,0.8L-1,0.8ZM0,-1L-1,0.8L0,0.8Z' : datum.value === 'along [110]' ? 'M-4.3,0H-1M1,0H4.3M0,-1L1,0L0,1L-1,0ZM0,-1L-1,0L0,1Z' : 'M-4.3,0H-1M1,0H4.3M0,-1A1,1,0,1,1,0,1A1,1,0,1,1,0,-1ZM0,-1A1,1,0,0,0,0,1Z'"},
             "fill": {"signal": "datum.value === 'along [010]' ? '#0000ff' : datum.value === 'along [110]' ? '#ff0000' : '#000000'"},
             "stroke": {"signal": "datum.value === 'along [010]' ? '#0000ff' : datum.value === 'along [110]' ? '#ff0000' : '#000000'"},
             "strokeWidth": {"value": 1.2}, "strokeDash": {"value": []}, "opacity": {"value": 1}}}}}}}},
       {"data": {"name": "pd"}, "mark": {"type": "point", "filled": false, "fill": "white", "size": 60, "strokeWidth": 1.1, "opacity": 1},
        "encoding": {"x": {"field": "strain", "type": "quantitative"}, "y": {"field": "value", "type": "quantitative"}, "color": {"field": "series", "type": "nominal"},
         "shape": {"field": "series", "type": "nominal", "scale": {"domain": ["along [100]", "along [010]", "along [110]"], "range": ["circle", "M0,-1L1,0.8L-1,0.8Z", "M0,-1L1,0L0,1L-1,0Z"]}, "legend": null}}},
       {"data": {"name": "pd"}, "mark": {"type": "point", "filled": true, "size": 60, "opacity": 1},
        "encoding": {"x": {"field": "strain", "type": "quantitative"}, "y": {"field": "value", "type": "quantitative"}, "color": {"field": "series", "type": "nominal"},
         "shape": {"field": "series", "type": "nominal", "scale": {"domain": ["along [100]", "along [010]", "along [110]"], "range": ["M0,-1A1,1,0,1,1,0,1A1,1,0,1,1,0,-1ZM0,-1A1,1,0,0,0,0,1Z", "M0,-1L1,0.8L-1,0.8ZM0,-1L-1,0.8L0,0.8Z", "M0,-1L1,0L0,1L-1,0ZM0,-1L-1,0L0,1Z"]}, "legend": null}}},
       {"data": {"values": [{}]}, "mark": {"type": "text", "text": "Boat", "font": "Liberation Serif", "fontWeight": "bold", "fontSize": 16, "color": "#8c1010"}, "encoding": {"x": {"datum": -5.0}, "y": {"datum": 0.644}}}
      ]
     }
    ]
   }
  ]
 }
]
}
